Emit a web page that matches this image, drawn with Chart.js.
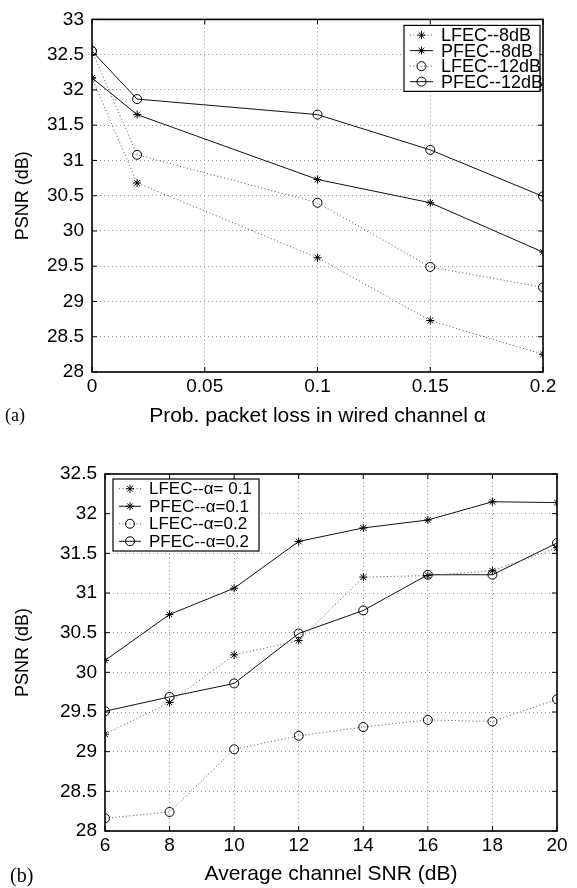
<!DOCTYPE html>
<html>
<head>
<meta charset="utf-8">
<script src="https://cdn.jsdelivr.net/npm/chart.js@4.4.1/dist/chart.umd.min.js"></script>
<style>
  body { margin: 0; background: #fff; width: 577px; height: 888px; position: relative; overflow: hidden; }
  .box { position: absolute; left: 0; width: 577px; }
  .tag { position: absolute; font-family: "Liberation Serif", serif; color: #000; }
</style>
</head>
<body>
<div class="box" style="top:0;height:440px"><canvas id="chartA"></canvas></div>
<div class="box" style="top:450px;height:438px"><canvas id="chartB"></canvas></div>
<div class="tag" style="left:5px;top:405px;font-size:18px">(a)</div>
<div class="tag" style="left:10px;top:864px;font-size:20px">(b)</div>
<script>
// (a) PSNR vs packet loss probability in the wired channel
const lossProb = [0, 0.02, 0.1, 0.15, 0.2];
const lfec8 = [32.17, 30.68, 29.62, 28.73, 28.25];
const pfec8 = [32.17, 31.65, 30.73, 30.40, 29.70];
const lfec12 = [32.55, 31.08, 30.40, 29.49, 29.20];
const pfec12 = [32.55, 31.87, 31.65, 31.15, 30.49];
const lossTicks = [0, 0.05, 0.1, 0.15, 0.2];

// (b) PSNR vs average channel SNR
const snr = [6, 8, 10, 12, 14, 16, 18, 20];
const lfecA1 = [29.22, 29.62, 30.22, 30.40, 31.20, 31.22, 31.28, 31.57];
const pfecA1 = [30.15, 30.73, 31.06, 31.65, 31.82, 31.92, 32.15, 32.14];
const lfecA2 = [28.16, 28.24, 29.03, 29.20, 29.31, 29.40, 29.38, 29.66];
const pfecA2 = [29.51, 29.69, 29.86, 30.49, 30.78, 31.23, 31.23, 31.63];

const FONT = '"Liberation Sans", Arial, sans-serif';
Chart.defaults.font.family = FONT;
Chart.defaults.color = '#000';

function pts(xs, ys) {
    return xs.map((x, i) => ({ x: x, y: ys[i] }));
}

function series(label, xs, ys, dotted, marker) {
    return {
        label: label,
        data: pts(xs, ys),
        borderColor: dotted ? '#555' : '#111',
        borderWidth: 1,
        borderDash: dotted ? [1, 2.5] : [],
        pointStyle: marker,
        pointRadius: marker === 'star' ? 4 : 4.5,
        pointBorderWidth: 1,
        pointBorderColor: '#000',
        pointBackgroundColor: 'rgba(0,0,0,0)',
        tension: 0
    };
}

// box around the plot with small inward ticks, like the original
const framePlugin = {
    id: 'frame',
    afterDatasetsDraw(chart) {
        const { ctx, chartArea: a, scales } = chart;
        ctx.save();
        ctx.strokeStyle = '#000';
        ctx.lineWidth = 1;
        ctx.setLineDash([]);
        scales.x.ticks.forEach(t => {
            const px = scales.x.getPixelForValue(t.value);
            ctx.beginPath();
            ctx.moveTo(px, a.bottom); ctx.lineTo(px, a.bottom - 5);
            ctx.moveTo(px, a.top); ctx.lineTo(px, a.top + 5);
            ctx.stroke();
        });
        scales.y.ticks.forEach(t => {
            const py = scales.y.getPixelForValue(t.value);
            ctx.beginPath();
            ctx.moveTo(a.left, py); ctx.lineTo(a.left + 5, py);
            ctx.moveTo(a.right, py); ctx.lineTo(a.right - 5, py);
            ctx.stroke();
        });
        ctx.lineWidth = 1.6;
        ctx.strokeRect(a.left, a.top, a.right - a.left, a.bottom - a.top);
        ctx.restore();
    }
};

// legend drawn inside the plot area
const boxLegend = {
    id: 'boxLegend',
    afterDraw(chart, args, opts) {
        const { ctx, chartArea: a } = chart;
        const sets = chart.data.datasets;
        const x0 = opts.side === 'right' ? a.right - opts.offsetX - opts.width : a.left + opts.offsetX;
        const y0 = a.top + opts.offsetY;
        ctx.save();
        ctx.fillStyle = '#fff';
        ctx.fillRect(x0, y0, opts.width, opts.rowH * sets.length + opts.padY * 2);
        ctx.strokeStyle = '#000';
        ctx.lineWidth = 1.2;
        ctx.strokeRect(x0, y0, opts.width, opts.rowH * sets.length + opts.padY * 2);
        ctx.font = opts.fontSize + 'px ' + FONT;
        ctx.textBaseline = 'middle';
        sets.forEach((ds, i) => {
            const cy = y0 + opts.padY + opts.rowH * (i + 0.5);
            const lx = x0 + 6;
            ctx.strokeStyle = ds.borderColor;
            ctx.lineWidth = 1;
            ctx.setLineDash(ds.borderDash);
            ctx.beginPath();
            ctx.moveTo(lx, cy); ctx.lineTo(lx + opts.lineW, cy);
            ctx.stroke();
            ctx.setLineDash([]);
            ctx.strokeStyle = '#000';
            ctx.fillStyle = 'rgba(0,0,0,0)';
            Chart.helpers.drawPoint(ctx, { pointStyle: ds.pointStyle, radius: ds.pointRadius, borderWidth: 1, rotation: 0 }, lx + opts.lineW / 2, cy);
            ctx.fillStyle = '#000';
            ctx.fillText(ds.label, lx + opts.lineW + 8, cy + 1);
        });
        ctx.restore();
    }
};

const fmt = v => String(Math.round(v * 100) / 100);

function makeChart(id, datasets, cfg) {
    return new Chart(document.getElementById(id), {
        type: 'line',
        data: { datasets: datasets },
        options: {
            responsive: true,
            maintainAspectRatio: false,
            animation: false,
            layout: { padding: cfg.padding },
            plugins: {
                legend: { display: false },
                tooltip: { enabled: false },
                boxLegend: cfg.legend
            },
            scales: {
                x: {
                    type: 'linear',
                    min: cfg.xMin, max: cfg.xMax,
                    afterBuildTicks: s => { s.ticks = cfg.xTicks.map(v => ({ value: v })); },
                    afterFit: s => { s.height = cfg.xHeight; },
                    ticks: { callback: fmt, font: { size: 19 }, padding: 3, maxRotation: 0, color: '#000' },
                    grid: { color: '#999', lineWidth: 1, drawTicks: false },
                    border: { display: false, dash: [1, 3] },
                    title: { display: true, text: cfg.xTitle, font: { size: 21 }, padding: { top: 0, bottom: cfg.xTitlePad }, color: '#000' }
                },
                y: {
                    min: cfg.yMin, max: cfg.yMax,
                    ticks: { stepSize: 0.5, callback: fmt, font: { size: 19 }, padding: 8, color: '#000' },
                    afterFit: s => { s.width = cfg.yWidth; },
                    grid: { color: '#999', lineWidth: 1, drawTicks: false },
                    border: { display: false, dash: [1, 3] },
                    title: { display: true, text: 'PSNR (dB)', font: { size: 18 }, padding: { top: 12, bottom: 0 }, color: '#000' }
                }
            }
        },
        plugins: [framePlugin, boxLegend]
    });
}

makeChart('chartA', [
    series('LFEC--8dB', lossProb, lfec8, true, 'star'),
    series('PFEC--8dB', lossProb, pfec8, false, 'star'),
    series('LFEC--12dB', lossProb, lfec12, true, 'circle'),
    series('PFEC--12dB', lossProb, pfec12, false, 'circle')
], {
    padding: { left: 0, top: 16, right: 34, bottom: 0 },
    xMin: 0, xMax: 0.2, xTicks: lossTicks,
    yMin: 28, yMax: 33,
    xHeight: 68, yWidth: 92, xTitlePad: 11,
    xTitle: 'Prob. packet loss in wired channel \u03b1',
    legend: { side: 'right', offsetX: 3, offsetY: 6, width: 136, rowH: 15.5, padY: 2, lineW: 23, fontSize: 18 }
});

makeChart('chartB', [
    series('LFEC--\u03b1= 0.1', snr, lfecA1, true, 'star'),
    series('PFEC--\u03b1=0.1', snr, pfecA1, false, 'star'),
    series('LFEC--\u03b1=0.2', snr, lfecA2, true, 'circle'),
    series('PFEC--\u03b1=0.2', snr, pfecA2, false, 'circle')
], {
    padding: { left: 0, top: 24, right: 20, bottom: 0 },
    xMin: 6, xMax: 20, xTicks: snr,
    yMin: 28, yMax: 32.5,
    xHeight: 57, yWidth: 105, xTitlePad: 1,
    xTitle: 'Average channel SNR (dB)',
    legend: { side: 'left', offsetX: 8, offsetY: 5, width: 146, rowH: 17.5, padY: 1, lineW: 22, fontSize: 17 }
});
</script>
</body>
</html>
